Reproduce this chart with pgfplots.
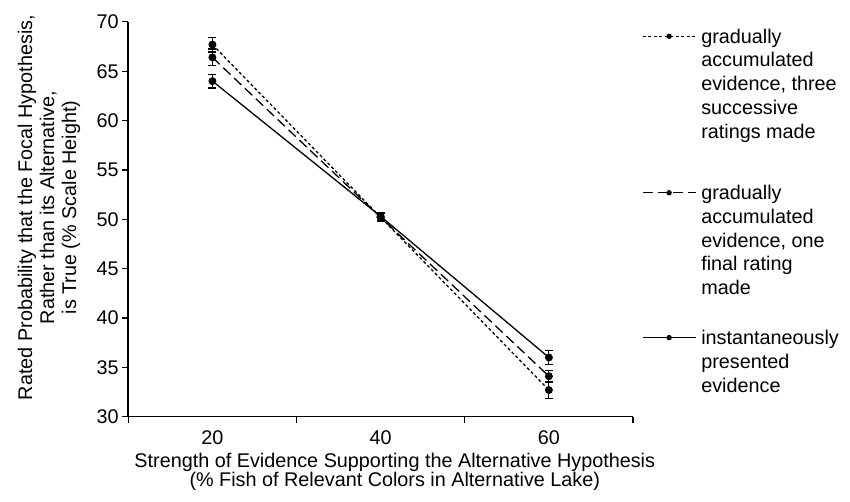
\documentclass[border=0pt]{standalone}
\usepackage{pgfplots}
\usepackage{pgfplotstable}
\pgfplotsset{compat=1.18}
\usepackage{fontspec}
\setmainfont{Liberation Sans}
\pgfplotstableread{
x y e
1 67.7 0.75
2 50.2 0.4
3 32.7 0.85
}\three
\pgfplotstableread{
x y e
1 66.4 0.85
2 50.2 0.4
3 34.1 0.6
}\final
\pgfplotstableread{
x y e
1 64.0 0.7
2 50.3 0.4
3 36.0 0.7
}\inst
\begin{document}
\begin{tikzpicture}[font=\fontsize{19.8}{23.7}\selectfont]
\path[use as bounding box] (-128.3pt,-85.3pt) rectangle (721.7pt,416.7pt);
\begin{axis}[
  at={(0pt,0pt)}, anchor=south west,
  scale only axis, width=504.7pt, height=394.8pt,
  xmin=0.5, xmax=3.5, ymin=30, ymax=70,
  axis lines=left, axis line style={line width=1.6pt, -},
  tick align=outside,
  xtick={0.5,1.5,2.5,3.5}, xticklabels={20,40,60}, x tick label as interval,
  ytick={30,35,...,70},
  tick style={black, line width=1.2pt},
  major tick length=6pt,
  /pgf/number format/assume math mode=true,
  ticklabel style={font=\fontsize{19.8}{23.7}\selectfont},
  xticklabel style={yshift=-4pt},
  xlabel={Strength of Evidence Supporting the Alternative Hypothesis\\(\% Fish of Relevant Colors in Alternative Lake)},
  xlabel style={align=center, font=\fontsize{19.8}{18.7}\selectfont, at={(axis description cs:0.528,0)}, anchor=north, yshift=-36.3pt, inner sep=0pt},
  ylabel={Rated Probability that the Focal Hypothesis,\\Rather than its Alternative,\\is True (\% Scale Height)},
  ylabel style={align=center, font=\fontsize{19.8}{22}\selectfont, at={(axis description cs:-0.157,0.53)}, anchor=center, inner sep=0pt},
  legend style={at={(axis description cs:1.0178,0.9873)}, anchor=north west, draw=none, fill=none, inner sep=0pt, outer sep=0pt, row sep=125pt, column sep=3pt, cells={anchor=base west}, font=\fontsize{19.8}{23.7}\selectfont},
  legend image code/.code={\draw[mark repeat=2,mark phase=2,#1,mark size=2pt,yshift=7pt] plot coordinates {(0pt,0pt) (26.5pt,0pt) (53pt,0pt)};},
  every axis plot/.append style={black, line width=1.3pt, mark=*, mark size=3.3pt, mark options={solid}},
  error bars/y dir=both, error bars/y explicit,
  error bars/error bar style={solid, line width=1.2pt},
  error bars/error mark options={solid, rotate=90, mark size=4pt, line width=1.2pt},
]
\addplot[dash pattern=on 3pt off 2.5pt] table[x=x, y=y, y error=e] {\three};
\addlegendentry{\parbox[t]{150pt}{\raggedright gradually\\accumulated\\evidence, three\\successive\\ratings made}}
\addplot[dash pattern=on 10pt off 5pt] table[x=x, y=y, y error=e] {\final};
\addlegendentry{\parbox[t]{150pt}{\raggedright\rule{0pt}{26pt}gradually\\accumulated\\evidence, one\\final rating\\made}}
\addplot[solid] table[x=x, y=y, y error=e] {\inst};
\addlegendentry{\parbox[t]{150pt}{\raggedright instantaneously\\presented\\evidence}}
\end{axis}
\end{tikzpicture}
\end{document}
